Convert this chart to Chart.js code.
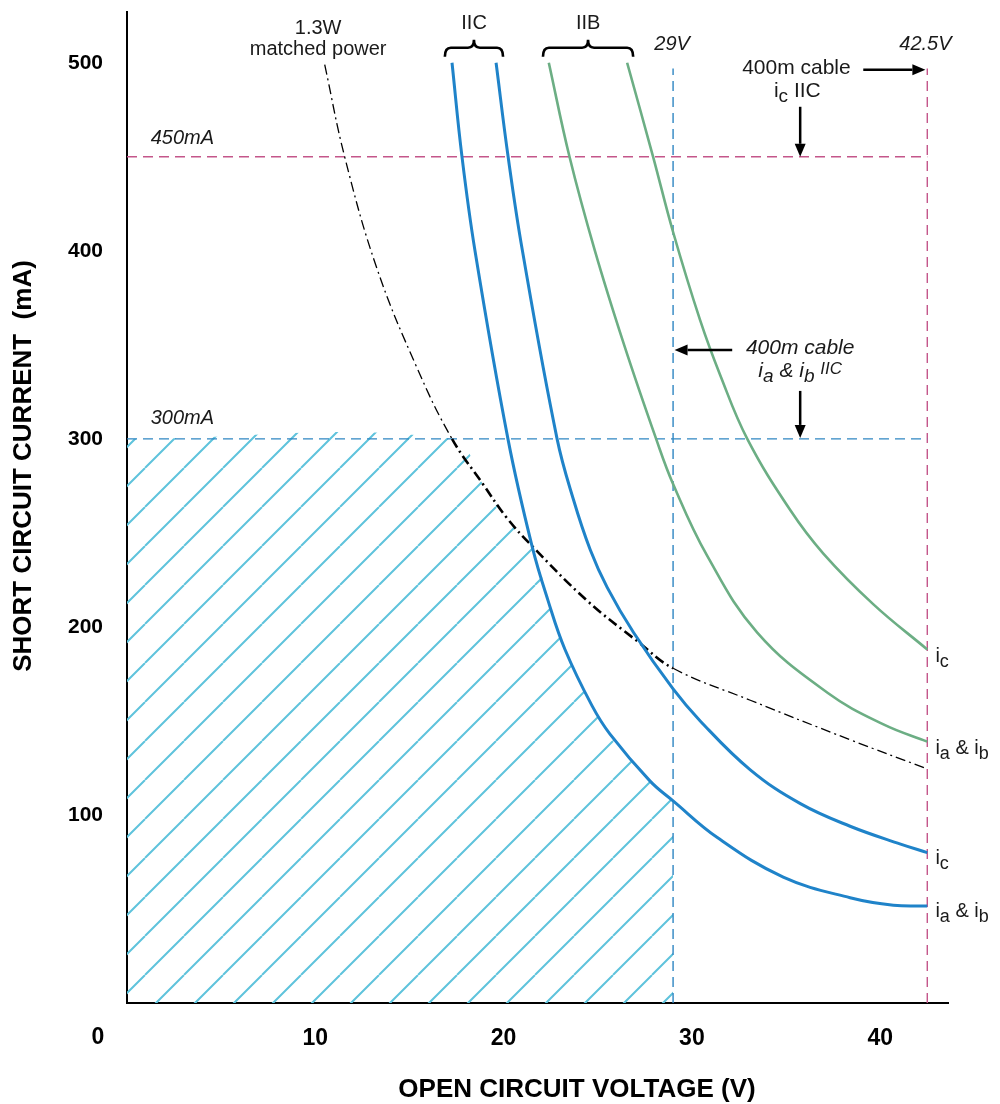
<!DOCTYPE html>
<html>
<head>
<meta charset="utf-8">
<script src="https://cdn.jsdelivr.net/npm/chart.js@4.4.1/dist/chart.umd.min.js"></script>
<style>
  html, body { margin: 0; padding: 0; background: #fff; }
  #wrap { width: 1000px; height: 1104px; }
</style>
</head>
<body>
<div id="wrap"><canvas id="chart" width="1000" height="1104"></canvas></div>
<script>
// axis ranges / ticks
const voltTicks = [0, 10, 20, 30, 40];
const currentTicks = [100, 200, 300, 400, 500];

// IIC  ia & ib  (lower blue)
const iicAbV = [17.26, 17.79, 18.48, 20.23, 21.51, 22.36, 23.26, 24.70, 25.65, 27.78, 29.0, 31.35, 34.85, 38.4, 40.7, 42.5];
const iicAbI = [500, 450, 400, 300, 243, 214, 188, 158, 143, 118, 107.5, 88, 67, 56, 52, 51.6];

// IIC  ic  (upper blue)
const iicCV = [19.6, 20.24, 21.0, 22.84, 23.7, 24.6, 25.5, 26.9, 29.0, 30.44, 33.1, 35.76, 38.4, 41.08, 42.5];
const iicCI = [500, 450, 400, 300, 268, 241, 221, 197, 167, 150, 124, 106, 94, 84.5, 80];

// IIB  ia & ib  (lower green)
const iibAbV = [22.4, 23.5, 24.85, 26.4, 28.1, 29.0, 30.8, 33.47, 37.2, 40.2, 42.5];
const iibAbI = [500, 450, 400, 350, 300, 276, 238, 197, 165, 148, 139];

// IIB  ic  (upper green)
const iibCV = [26.56, 27.94, 29.0, 30.44, 31.5, 32.94, 35.23, 36.98, 39.64, 42.5];
const iibCI = [500, 450, 410, 363, 334, 300, 262, 239, 212, 188];

// 1.3W matched power
const powerV = [10.5, 11.56, 13.26, 15.39, 17.26, 18.9, 20.17, 21.51, 24.43, 27.15, 29.0, 33.1, 38.4, 42.5];
const powerI = [499, 450, 391, 338, 300, 276, 258, 243, 214, 192, 178, 161, 140, 124.5];

// safe (hatched) region boundary
const safeV = [0, 17.26, 18.9, 20.17, 21.51, 22.36, 23.26, 24.70, 25.65, 27.78, 29.0];
const safeI = [300, 300, 276, 258, 243, 214, 188, 158, 143, 118, 107.5];

// limit lines
const limit450V = [0, 42.5];
const limit450I = [450, 450];
const limit300V = [0, 42.5];
const limit300I = [300, 300];
const volt29V = [29, 29];
const volt29I = [0, 497];
const volt425V = [42.5, 42.5];
const volt425I = [0, 497];

const pts = (xs, ys) => xs.map((x, i) => ({ x, y: ys[i] }));

const BLUE = '#1f83c9';
const GREEN = '#6cae84';
const PINK = '#c4568a';
const DBLUE = '#2f86c2';
const FONT = "'Liberation Sans', Arial, sans-serif";

function hatchPattern() {
    const s = 39;
    const c = document.createElement('canvas');
    c.width = s; c.height = s;
    const g = c.getContext('2d');
    g.strokeStyle = '#5fc3dc';
    g.lineWidth = 2;
    g.beginPath();
    for (const k of [-s, 0, s]) {
        g.moveTo(k, s);
        g.lineTo(k + s, 0);
    }
    g.stroke();
    const p = g.createPattern(c, 'repeat');
    p.setTransform(new DOMMatrix().translate(28, 0));
    return p;
}

function richText(ctx, parts, x, y, align, size, italic) {
    // parts: [text, scale, dy]
    const style = italic ? 'italic ' : '';
    let w = 0;
    for (const [t, sc] of parts) {
        ctx.font = style + Math.round(size * (sc || 1)) + 'px ' + FONT;
        w += ctx.measureText(t).width;
    }
    let cx = align === 'center' ? x - w / 2 : x;
    const base = y + size * 0.36;
    ctx.textAlign = 'left';
    ctx.textBaseline = 'alphabetic';
    for (const [t, sc, dy] of parts) {
        ctx.font = style + Math.round(size * (sc || 1)) + 'px ' + FONT;
        ctx.fillText(t, cx, base + (dy || 0));
        cx += ctx.measureText(t).width;
    }
}

function arrow(ctx, x1, y1, x2, y2) {
    const a = Math.atan2(y2 - y1, x2 - x1);
    const L = 13, H = 5.5;
    ctx.save();
    ctx.strokeStyle = '#000';
    ctx.fillStyle = '#000';
    ctx.lineWidth = 2.5;
    ctx.beginPath();
    ctx.moveTo(x1, y1);
    ctx.lineTo(x2 - Math.cos(a) * L, y2 - Math.sin(a) * L);
    ctx.stroke();
    ctx.beginPath();
    ctx.moveTo(x2, y2);
    ctx.lineTo(x2 - Math.cos(a) * L - Math.sin(a) * H, y2 - Math.sin(a) * L + Math.cos(a) * H);
    ctx.lineTo(x2 - Math.cos(a) * L + Math.sin(a) * H, y2 - Math.sin(a) * L - Math.cos(a) * H);
    ctx.closePath();
    ctx.fill();
    ctx.restore();
}

function brace(ctx, x1, x2, yTop, yMid, yEnd) {
    const xc = (x1 + x2) / 2, r = 6;
    ctx.save();
    ctx.strokeStyle = '#000';
    ctx.lineWidth = 2.6;
    ctx.beginPath();
    ctx.moveTo(x1, yEnd);
    ctx.quadraticCurveTo(x1, yMid, x1 + r, yMid);
    ctx.lineTo(xc - r, yMid);
    ctx.quadraticCurveTo(xc, yMid, xc, yTop);
    ctx.quadraticCurveTo(xc, yMid, xc + r, yMid);
    ctx.lineTo(x2 - r, yMid);
    ctx.quadraticCurveTo(x2, yMid, x2, yEnd);
    ctx.stroke();
    ctx.restore();
}

const annotations = {
    id: 'annotations',
    afterDraw(chart) {
        const { ctx } = chart;
        const xs = chart.scales.x, ys = chart.scales.y;
        const X = v => xs.getPixelForValue(v);
        const Y = m => ys.getPixelForValue(m);
        ctx.save();
        ctx.fillStyle = '#1a1a1a';

        richText(ctx, [['450mA']], X(1.26), Y(460.6), 'left', 20, true);
        richText(ctx, [['300mA']], X(1.26), Y(311.7), 'left', 20, true);

        richText(ctx, [['1.3W']], X(10.15), Y(519), 'center', 20, false);
        richText(ctx, [['matched power']], X(10.15), Y(508), 'center', 20, false);

        richText(ctx, [['IIC']], X(18.43), Y(521.8), 'center', 20, false);
        richText(ctx, [['IIB']], X(24.49), Y(521.8), 'center', 20, false);
        brace(ctx, X(16.88), X(19.97), Y(512.2), Y(508), Y(503.2));
        brace(ctx, X(22.09), X(26.88), Y(512.2), Y(508), Y(503.2));

        richText(ctx, [['29V']], X(28.95), Y(510.6), 'center', 20, true);
        richText(ctx, [['42.5V']], X(42.4), Y(510.6), 'center', 20, true);

        richText(ctx, [['400m cable']], X(35.55), Y(497.9), 'center', 21, false);
        richText(ctx, [['i'], ['c', 0.9, 5], [' IIC']], X(35.6), Y(485.6), 'center', 21, false);
        arrow(ctx, X(39.1), Y(496.3), X(42.4), Y(496.3));
        arrow(ctx, X(35.75), Y(476.6), X(35.75), Y(450));

        richText(ctx, [['400m cable']], X(35.75), Y(349), 'center', 21, true);
        richText(ctx, [['i'], ['a', 0.9, 5], [' & i'], ['b', 0.9, 5], [' '], ['IIC', 0.8, -3]], X(35.75), Y(336.7), 'center', 21, true);
        arrow(ctx, X(32.14), Y(347.3), X(29.08), Y(347.3));
        arrow(ctx, X(35.75), Y(325.5), X(35.75), Y(300.5));

        const rx = X(42.93);
        richText(ctx, [['i'], ['c', 0.9, 5]], rx, Y(185), 'left', 20, false);
        richText(ctx, [['i'], ['a', 0.9, 5], [' & i'], ['b', 0.9, 5]], rx, Y(136), 'left', 20, false);
        richText(ctx, [['i'], ['c', 0.9, 5]], rx, Y(77.7), 'left', 20, false);
        richText(ctx, [['i'], ['a', 0.9, 5], [' & i'], ['b', 0.9, 5]], rx, Y(49.5), 'left', 20, false);

        // zero label sits left of the axis in the original
        ctx.fillStyle = '#000';
        ctx.font = 'bold 23px ' + FONT;
        ctx.textAlign = 'center';
        ctx.textBaseline = 'middle';
        ctx.fillText(String(voltTicks[0]), 98, 1038);

        // axis titles
        ctx.font = 'bold 26px ' + FONT;
        ctx.fillText('OPEN CIRCUIT VOLTAGE (V)', 577, 1090);
        ctx.translate(24, 466);
        ctx.rotate(-Math.PI / 2);
        ctx.fillText('SHORT CIRCUIT CURRENT  (mA)', 0, 0);
        ctx.restore();
    }
};

const limitLine = (data, color) => ({
    data, showLine: true, borderColor: color, borderWidth: 1.4,
    borderDash: [10, 6], pointRadius: 0, fill: false, order: 5
});
const curve = (data, color, width) => ({
    data, showLine: true, borderColor: color, borderWidth: width,
    pointRadius: 0, fill: false, tension: 0.4, order: 1
});

const ctx = document.getElementById('chart').getContext('2d');
const chart = new Chart(ctx, {
    type: 'scatter',
    data: {
        datasets: [
            {
                data: pts(safeV, safeI), showLine: true, borderWidth: 0, pointRadius: 0,
                backgroundColor: hatchPattern(), fill: 'origin',
                tension: 0.4, order: 10
            },
            limitLine(pts(limit450V, limit450I), PINK),
            limitLine(pts(limit300V, limit300I), DBLUE),
            limitLine(pts(volt29V, volt29I), DBLUE),
            limitLine(pts(volt425V, volt425I), PINK),
            {
                data: pts(powerV, powerI), showLine: true, borderColor: '#000', borderWidth: 1.3,
                borderDash: [10, 4, 2, 4], pointRadius: 0, fill: false,
                tension: 0.4, order: 2,
                segment: {
                    borderWidth: c => (c.p0.parsed.x >= 17.2 && c.p1.parsed.x <= 29.1) ? 2.6 : 1.3
                }
            },
            curve(pts(iibCV, iibCI), GREEN, 2.6),
            curve(pts(iibAbV, iibAbI), GREEN, 2.6),
            curve(pts(iicCV, iicCI), BLUE, 3),
            curve(pts(iicAbV, iicAbI), BLUE, 3)
        ]
    },
    options: {
        responsive: false,
        animation: false,
        layout: { padding: { top: 12, right: 52, bottom: 0, left: 0 } },
        plugins: { legend: { display: false }, tooltip: { enabled: false } },
        scales: {
            x: {
                type: 'linear', min: 0, max: 43.6,
                afterFit: s => { s.height = 101; s.paddingLeft = 0; s.paddingRight = 0; },
                grid: { display: false, drawTicks: false },
                border: { display: true, color: '#000', width: 2 },
                afterBuildTicks: s => { s.ticks = voltTicks.map(v => ({ value: v })); },
                ticks: {
                    padding: 22, color: '#000', maxRotation: 0,
                    font: { family: FONT, weight: 'bold', size: 23 },
                    callback: v => v === 0 ? '' : v
                }
            },
            y: {
                type: 'linear', min: 0, max: 527,
                afterFit: s => { s.width = 127; s.paddingTop = 0; s.paddingBottom = 0; },
                grid: { display: false, drawTicks: false },
                border: { display: true, color: '#000', width: 2 },
                afterBuildTicks: s => { s.ticks = currentTicks.map(v => ({ value: v })); },
                ticks: {
                    padding: 24, color: '#000',
                    font: { family: FONT, weight: 'bold', size: 21 }
                }
            }
        }
    },
    plugins: [annotations]
});
</script>
</body>
</html>
